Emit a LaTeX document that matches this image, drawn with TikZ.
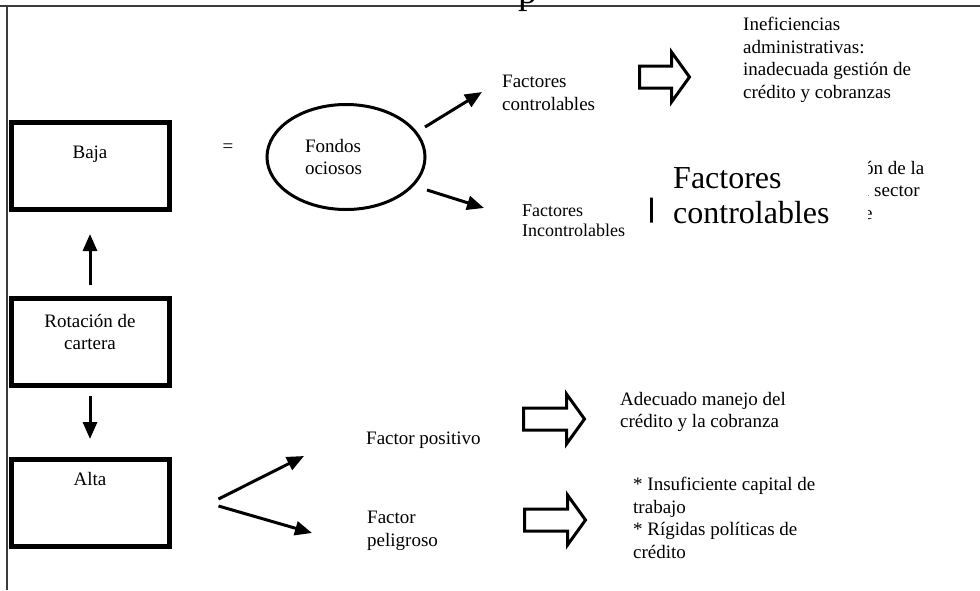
\documentclass[tikz,border=0pt]{standalone}
\usepackage{fontspec}
\setmainfont{Liberation Serif}
\usetikzlibrary{positioning, shapes.geometric, arrows.meta, calc}
\definecolor{marco}{HTML}{3c3c3c}

\begin{document}
\begin{tikzpicture}[x=1pt, y=-1pt, font=\fontsize{19}{22.5}\selectfont,
  caja/.style={draw, line width=5pt, minimum width=158pt, minimum height=87pt, inner sep=0pt},
  ovalo/.style={draw, ellipse, line width=3pt, minimum width=158pt, minimum height=105pt, inner sep=0pt, text width=82pt, align=left},
  txt/.style={anchor=west, align=left, inner sep=0pt},
  flecha/.style={-{Triangle[length=17pt, width=14pt]}, line width=3pt},
  borde/.style={draw=marco, line width=2pt},
  pics/hueca/.style={code={\draw[line width=3pt] (0,-11) -- (#1-18,-11) -- (#1-18,-25) -- (#1,0) -- (#1-18,25) -- (#1-18,11) -- (0,11) -- cycle;}}
]
  \fill[white] (0,0) rectangle (980,590);
  \useasboundingbox (0,0) rectangle (980,590);

  % marco de la pagina
  \draw[borde] (0,6) -- (980,6);
  \draw[borde] (7,6) -- (7,590);
  \node[anchor=base, inner sep=0pt, font=\fontsize{38}{40}\selectfont] (pg) at (528,3) {p};

  % rotacion de cartera
  \node[caja, text depth=28pt] (baja) at (90,166) {Baja};
  \node[caja] (rot) at (90,342) {\raisebox{8pt}[\height][\depth]{\begin{tabular}{@{}c@{}}Rotación de\\cartera\end{tabular}}};
  \node[caja, text depth=48pt] (alta) at (90,503) {Alta};
  \draw[flecha, shorten <=11pt, shorten >=22pt] (rot) -- (baja);
  \draw[flecha, shorten <=8pt, shorten >=18pt] (rot) -- (alta);

  % rama baja
  \node (igual) at (228,148) {=};
  \node[ovalo] (fondos) at (346,157) {Fondos\\ociosos};
  \node[txt] (fctrl) at (502,93) {Factores\\controlables};
  \node[txt, font=\fontsize{18}{20}\selectfont] (fincont) at (522,221) {Factores\\Incontrolables};
  \draw[flecha] ([shift={(79,-30)}]fondos.center) -- ([shift={(-20,-1)}]fctrl.west);
  \draw[flecha] ([shift={(81,33)}]fondos.center) -- ([shift={(-38,-13)}]fincont.west);

  \pic (ar1) at (639.5,77) {hueca=50};
  \node[txt] (inef) at (743,60) {Ineficiencias\\administrativas:\\inadecuada gestión de\\crédito y cobranzas};

  \pic (ar0) at (651.5,210) {hueca=50};
  \node[txt] (frag) at (864,190) {ón de la\\l sector\\e};
  \node[anchor=west, fill=white, inner xsep=20pt, inner ysep=0pt, text width=175pt, minimum height=100pt, align=left,
        font=\fontsize{32}{35}\selectfont] (fbig) at (653,196) {Factores\\controlables};

  % rama alta
  \node[txt] (fpos) at (366,440) {Factor positivo};
  \node[txt] (fpel) at (367,531) {Factor\\peligroso};
  \draw[flecha] ([shift={(47,-4)}]alta.east) -- ([shift={(-62,16)}]fpos.west);
  \draw[flecha] ([shift={(47,3)}]alta.east) -- ([shift={(-55,2)}]fpel.west);

  \pic (ar2) at (523.5,419) {hueca=61};
  \pic (ar3) at (524.5,520) {hueca=61};
  \node[txt] (adec) at (620,412) {Adecuado manejo del\\crédito y la cobranza};
  \node[txt] (insuf) at (633,518) {* Insuficiente capital de\\trabajo\\* Rígidas políticas de\\crédito};
\end{tikzpicture}
\end{document}
